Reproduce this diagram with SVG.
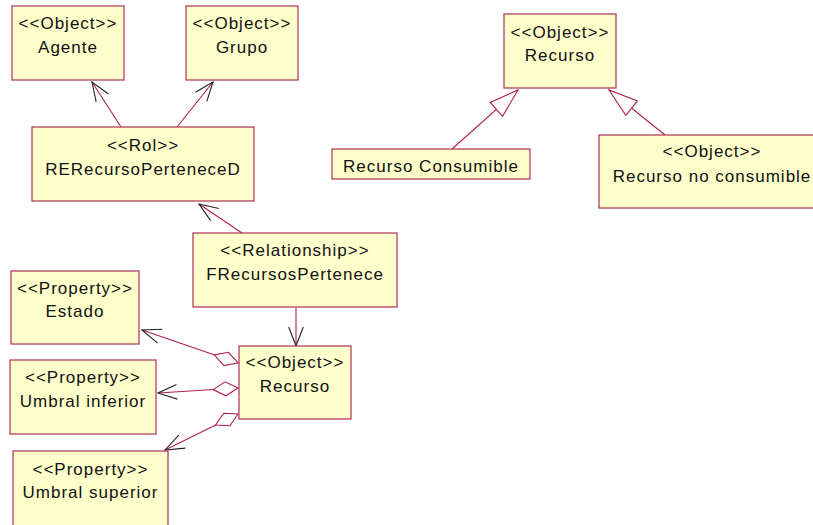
<svg xmlns="http://www.w3.org/2000/svg" width="813" height="525" viewBox="0 0 813 525">
  <style>
    .box { fill: #FFFFCC; stroke: #B02E5A; stroke-width: 1.2; }
    .lbl { font-family: "Liberation Sans", Arial, sans-serif; font-size: 17px; letter-spacing: 1px; fill: #111; text-anchor: middle; }
    .link { fill: none; stroke: #B01E4E; stroke-width: 1.1; }
  </style>
  <defs>
    <!-- open navigable arrowhead -->
    <marker id="open" markerUnits="userSpaceOnUse" markerWidth="24" markerHeight="20" refX="0" refY="0" viewBox="-21 -10 24 20" orient="auto" overflow="visible">
      <path d="M-19,-7.3 L0,0 L-19,7.3" fill="none" stroke="#222" stroke-width="1.1"/>
    </marker>
    <!-- hollow generalization triangle -->
    <marker id="gen" markerUnits="userSpaceOnUse" markerWidth="34" markerHeight="22" refX="0" refY="0" viewBox="-32 -11 34 22" orient="auto" overflow="visible">
      <path d="M0,0 L-29,-9.3 L-29,9.3 Z" fill="#fff" stroke="#B01E4E" stroke-width="1.1"/>
    </marker>
    <!-- hollow aggregation diamond -->
    <marker id="agg" markerUnits="userSpaceOnUse" markerWidth="28" markerHeight="18" refX="0" refY="0" viewBox="-2 -9 28 18" orient="auto" overflow="visible">
      <path d="M0,0 L12.5,-7 L25,0 L12.5,7 Z" fill="#fff" stroke="#B01E4E" stroke-width="1.1"/>
    </marker>
  </defs>

  <g id="connectors">
    <path class="link" d="M121,127 L92,82" marker-end="url(#open)"/>
    <path class="link" d="M177,127 L213,82" marker-end="url(#open)"/>
    <path class="link" d="M242,233 L199,204" marker-end="url(#open)"/>
    <path class="link" d="M296,308 L296,346" marker-end="url(#open)"/>
    <path class="link" d="M452,149 L518,90" marker-end="url(#gen)"/>
    <path class="link" d="M665,135 L609,90" marker-end="url(#gen)"/>
    <path class="link" d="M238,363 L142,330" marker-start="url(#agg)" marker-end="url(#open)"/>
    <path class="link" d="M238,388 L158,393" marker-start="url(#agg)" marker-end="url(#open)"/>
    <path class="link" d="M238,414 L165,450" marker-start="url(#agg)" marker-end="url(#open)"/>
  </g>

  <g id="agente">
    <rect class="box" x="12" y="6" width="112" height="74"/>
    <text class="lbl" x="68" y="29">&lt;&lt;Object&gt;&gt;</text>
    <text class="lbl" x="68" y="53">Agente</text>
  </g>
  <g id="grupo">
    <rect class="box" x="186" y="6" width="112" height="74"/>
    <text class="lbl" x="242" y="29">&lt;&lt;Object&gt;&gt;</text>
    <text class="lbl" x="242" y="53">Grupo</text>
  </g>
  <g id="rol">
    <rect class="box" x="32" y="127" width="222" height="74"/>
    <text class="lbl" x="143" y="151">&lt;&lt;Rol&gt;&gt;</text>
    <text class="lbl" x="143" y="175">RERecursoPerteneceD</text>
  </g>
  <g id="recurso-base">
    <rect class="box" x="504" y="14" width="112" height="74"/>
    <text class="lbl" x="560" y="38">&lt;&lt;Object&gt;&gt;</text>
    <text class="lbl" x="560" y="61">Recurso</text>
  </g>
  <g id="recurso-consumible">
    <rect class="box" x="332" y="149" width="198" height="30"/>
    <text class="lbl" x="431" y="172">Recurso Consumible</text>
  </g>
  <g id="recurso-no-consumible">
    <rect class="box" x="599" y="135" width="226" height="73"/>
    <text class="lbl" x="712" y="157">&lt;&lt;Object&gt;&gt;</text>
    <text class="lbl" x="712" y="182">Recurso no consumible</text>
  </g>
  <g id="relationship">
    <rect class="box" x="193" y="233" width="204" height="74"/>
    <text class="lbl" x="295" y="256">&lt;&lt;Relationship&gt;&gt;</text>
    <text class="lbl" x="295" y="280">FRecursosPertenece</text>
  </g>
  <g id="recurso">
    <rect class="box" x="239" y="346" width="112" height="73"/>
    <text class="lbl" x="295" y="368">&lt;&lt;Object&gt;&gt;</text>
    <text class="lbl" x="295" y="392">Recurso</text>
  </g>
  <g id="estado">
    <rect class="box" x="11" y="271" width="128" height="73"/>
    <text class="lbl" x="75" y="294">&lt;&lt;Property&gt;&gt;</text>
    <text class="lbl" x="75" y="317">Estado</text>
  </g>
  <g id="umbral-inferior">
    <rect class="box" x="10" y="360" width="146" height="74"/>
    <text class="lbl" x="83" y="383">&lt;&lt;Property&gt;&gt;</text>
    <text class="lbl" x="83" y="407">Umbral inferior</text>
  </g>
  <g id="umbral-superior">
    <rect class="box" x="13" y="451" width="155" height="80"/>
    <text class="lbl" x="90.5" y="475">&lt;&lt;Property&gt;&gt;</text>
    <text class="lbl" x="90.5" y="498">Umbral superior</text>
  </g>
</svg>
